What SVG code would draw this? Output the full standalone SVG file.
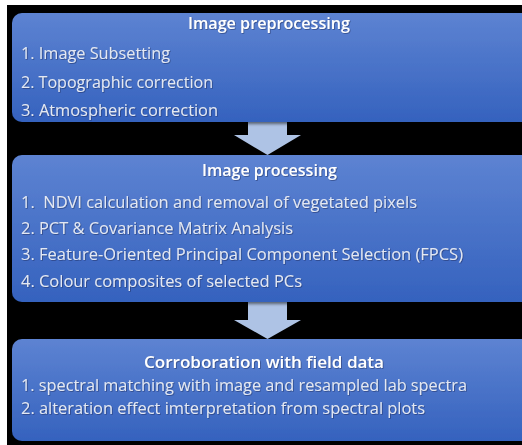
<svg xmlns="http://www.w3.org/2000/svg" width="522" height="445" viewBox="0 0 522 445">
<defs>
<linearGradient id="bg" x1="0" y1="0" x2="0" y2="1">
<stop offset="0" stop-color="#5d83d2"/>
<stop offset="1" stop-color="#3562be"/>
</linearGradient>
<filter id="sh" x="-5%" y="-5%" width="110%" height="115%">
<feDropShadow dx="0" dy="2" stdDeviation="1.5" flood-color="#000" flood-opacity="0.5"/>
</filter>
<filter id="ts" x="-5%" y="-20%" width="110%" height="150%">
<feDropShadow dx="0.8" dy="0.8" stdDeviation="0.6" flood-color="#1a2c5a" flood-opacity="0.6"/>
</filter>
</defs>
<style>
.box{fill:url(#bg);filter:url(#sh)}
.t{font-family:"Open Sans","Liberation Sans",sans-serif;font-size:16px;font-weight:600;fill:#ffffff;text-anchor:middle;filter:url(#ts)}
.l{font-family:"Open Sans","Liberation Sans",sans-serif;font-size:16px;fill:#e3e8f3;filter:url(#ts)}
.arr{fill:#aec3e5}
</style>
<rect x="0" y="0" width="522" height="445" fill="#ffffff"/>
<rect x="7" y="5" width="515" height="440" fill="#000000"/>
<g id="connectors">
<polygon class="arr" points="248,121 287,121 287,135 301,135 267.5,155 234,135 248,135"/>
<polygon class="arr" points="248,301 287,301 287,320 301,320 267.5,339 234,320 248,320"/>
</g>
<g id="node-preprocessing">
<rect class="box" x="12" y="13" width="520" height="109" rx="10"/>
<text class="t" x="269" y="29" textLength="162" lengthAdjust="spacingAndGlyphs">Image preprocessing</text>
<text class="l" x="21" y="59" textLength="149" lengthAdjust="spacingAndGlyphs">1. Image Subsetting</text>
<text class="l" x="21" y="88" textLength="192" lengthAdjust="spacingAndGlyphs">2. Topographic correction</text>
<text class="l" x="21" y="116" textLength="197" lengthAdjust="spacingAndGlyphs">3. Atmospheric correction</text>
</g>
<g id="node-processing">
<rect class="box" x="12" y="155" width="520" height="147" rx="10"/>
<text class="t" x="269.5" y="176" textLength="135" lengthAdjust="spacingAndGlyphs">Image processing</text>
<text class="l" x="21" y="208" textLength="396" lengthAdjust="spacingAndGlyphs" xml:space="preserve">1.  NDVI calculation and removal of vegetated pixels</text>
<text class="l" x="21" y="234" textLength="272" lengthAdjust="spacingAndGlyphs">2. PCT &amp; Covariance Matrix Analysis</text>
<text class="l" x="21" y="260" textLength="442" lengthAdjust="spacingAndGlyphs">3. Feature-Oriented Principal Component Selection (FPCS)</text>
<text class="l" x="21" y="287" textLength="281" lengthAdjust="spacingAndGlyphs">4. Colour composites of selected PCs</text>
</g>
<g id="node-corroboration">
<rect class="box" x="12" y="339" width="520" height="102" rx="10"/>
<text class="t" x="264" y="368" textLength="240" lengthAdjust="spacingAndGlyphs">Corroboration with field data</text>
<text class="l" x="21" y="391" textLength="446" lengthAdjust="spacingAndGlyphs">1. spectral matching with image and resampled lab spectra</text>
<text class="l" x="21" y="414" textLength="404" lengthAdjust="spacingAndGlyphs">2. alteration effect imterpretation from spectral plots</text>
</g>
</svg>
